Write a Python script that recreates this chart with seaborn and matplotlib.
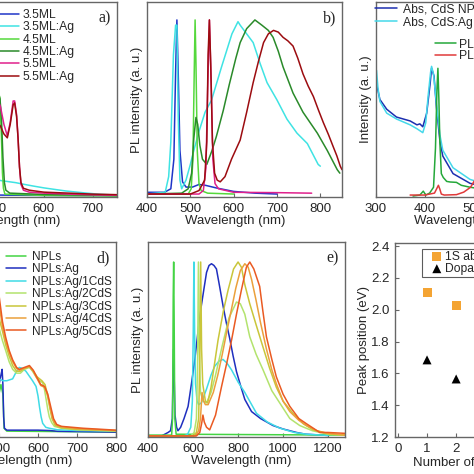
import matplotlib
matplotlib.use("Agg")
import matplotlib.pyplot as plt
import seaborn as sns

# ---- panel a: absorption of core NPLs (only the visible right part) ----
a_35_wl = [505, 600, 750]
a_35 = [0.005, 0.003, 0.002]
a_35ag_wl = [505, 511, 525, 542, 560, 577, 600, 645, 680, 714, 750]
a_35ag = [0.085, 0.08, 0.075, 0.069, 0.06, 0.052, 0.042, 0.026, 0.017, 0.009, 0.005]
a_45_wl = [495, 500, 505, 510, 513, 515, 517, 520, 600, 750]
a_45 = [0.62, 0.6, 0.56, 0.5, 0.3, 0.12, 0.04, 0.01, 0.003, 0.0]
a_45ag_wl = [495, 505, 510, 513, 516, 519, 522, 530, 600, 750]
a_45ag = [0.6, 0.55, 0.5, 0.4, 0.2, 0.07, 0.03, 0.015, 0.008, 0.003]
a_55_wl = [500, 505, 511, 518, 525, 531, 537, 540, 544, 547, 550, 553, 558, 570, 600, 650, 700, 750]
a_55 = [0.52, 0.5, 0.46, 0.37, 0.31, 0.38, 0.49, 0.49, 0.42, 0.3, 0.15, 0.06, 0.03, 0.02, 0.015, 0.01, 0.006, 0.004]
a_55ag_wl = [500, 505, 511, 518, 525, 531, 537, 540, 544, 547, 550, 553, 558, 570, 600, 650, 700, 750]
a_55ag = [0.4, 0.38, 0.36, 0.32, 0.3, 0.37, 0.47, 0.48, 0.41, 0.3, 0.15, 0.07, 0.04, 0.03, 0.02, 0.015, 0.01, 0.007]

# ---- panel b: PL of core NPLs ----
b_35_wl = [400, 440, 455, 462, 466, 469, 472, 476, 482, 490, 505, 520, 535, 560, 600, 650, 700]
b_35 = [0.01, 0.01, 0.03, 0.2, 0.7, 1.0, 0.7, 0.25, 0.07, 0.04, 0.04, 0.055, 0.05, 0.035, 0.015, 0.005, 0.0]
b_35ag_wl = [400, 442, 450, 455, 461, 466, 469, 472, 476, 480, 490, 500, 507, 520, 534, 549, 572, 596, 610,
             615, 645, 661, 677, 700, 723, 746, 770, 795, 800]
b_35ag = [0.0, 0.01, 0.1, 0.3, 0.8, 0.97, 0.97, 0.45, 0.08, 0.03, 0.08, 0.17, 0.24, 0.36, 0.47, 0.54, 0.73,
          0.92, 0.99, 0.97, 0.87, 0.75, 0.64, 0.54, 0.43, 0.35, 0.29, 0.17, 0.16]
b_45_wl = [400, 495, 502, 506, 509, 511, 513, 516, 520, 525, 540, 600]
b_45 = [0.0, 0.0, 0.03, 0.2, 0.7, 1.0, 0.75, 0.25, 0.06, 0.02, 0.005, 0.0]
b_45ag_wl = [400, 480, 495, 503, 508, 513, 517, 522, 528, 538, 550, 560, 576, 590, 605, 615, 630, 649, 665,
             680, 691, 703, 714, 737, 760, 793, 816, 839, 845]
b_45ag = [0.0, 0.005, 0.03, 0.12, 0.32, 0.44, 0.4, 0.28, 0.2, 0.17, 0.25, 0.33, 0.48, 0.63, 0.78, 0.87, 0.95,
          1.0, 0.97, 0.94, 0.9, 0.82, 0.73, 0.58, 0.47, 0.35, 0.25, 0.14, 0.12]
b_55_wl = [400, 520, 530, 536, 540, 544, 548, 552, 557, 565, 600, 700, 780]
b_55 = [0.0, 0.0, 0.02, 0.15, 0.6, 1.0, 0.65, 0.2, 0.06, 0.03, 0.01, 0.008, 0.005]
b_55ag_wl = [400, 500, 520, 533, 538, 541, 544, 547, 551, 556, 562, 569, 580, 595, 615, 630, 645, 657, 669,
             680, 692, 703, 714, 725, 737, 748, 760, 772, 784, 796, 807, 819, 830, 838, 846, 850]
b_55ag = [0.0, 0.0, 0.02, 0.08, 0.3, 0.8, 1.0, 0.75, 0.3, 0.12, 0.08, 0.07, 0.1, 0.2, 0.31, 0.47, 0.64, 0.76,
          0.87, 0.92, 0.94, 0.93, 0.9, 0.88, 0.85, 0.78, 0.69, 0.62, 0.56, 0.48, 0.41, 0.34, 0.27, 0.22, 0.16, 0.14]

# ---- panel c: CdS NPLs absorption and PL ----
c_abs_wl = [301, 308, 322, 342, 370, 384, 390, 396, 404, 411, 414, 419, 424, 431, 437, 458, 493, 520]
c_abs = [0.58, 0.5, 0.45, 0.41, 0.39, 0.37, 0.375, 0.36, 0.43, 0.58, 0.66, 0.62, 0.46, 0.29, 0.21, 0.12, 0.07, 0.055]
c_absag_wl = [301, 304, 308, 322, 342, 370, 384, 390, 396, 402, 407, 412, 414, 418, 424, 431, 437, 458, 493, 520]
c_absag = [0.65, 0.56, 0.49, 0.43, 0.4, 0.37, 0.35, 0.34, 0.33, 0.38, 0.52, 0.64, 0.67, 0.63, 0.48, 0.32, 0.24,
           0.15, 0.09, 0.07]
c_pl_wl = [376, 390, 397, 402, 410, 418, 422, 425, 427, 429, 431, 434, 438, 445, 452, 465, 475, 493, 520]
c_pl = [0.005, 0.01, 0.03, 0.01, 0.02, 0.05, 0.25, 0.55, 0.66, 0.5, 0.28, 0.12, 0.1, 0.08, 0.077, 0.075, 0.06,
        0.05, 0.04]
c_plag_wl = [370, 400, 420, 424, 428, 431, 434, 440, 465, 480, 494, 501, 510, 520]
c_plag = [0.01, 0.01, 0.02, 0.04, 0.06, 0.04, 0.015, 0.01, 0.012, 0.025, 0.05, 0.08, 0.11, 0.15]

# ---- panel d: absorption of core/shell NPLs ----
d_npl_wl = [495, 500, 505, 510, 513, 520, 800]
d_npl = [0.18, 0.2, 0.25, 0.2, 0.02, 0.005, 0.0]
d_ag_wl = [495, 500, 505, 508, 510, 512, 514, 520, 600, 630, 650, 800]
d_ag = [0.2, 0.25, 0.3, 0.33, 0.25, 0.08, 0.02, 0.01, 0.01, 0.008, 0.004, 0.0]
d_1cds_wl = [495, 500, 510, 520, 535, 545, 552, 560, 569, 586, 595, 600, 604, 608, 612, 620, 629, 650, 700, 800]
d_1cds = [0.29, 0.28, 0.27, 0.27, 0.28, 0.32, 0.34, 0.335, 0.32, 0.27, 0.24, 0.19, 0.13, 0.08, 0.046, 0.025,
          0.02, 0.012, 0.008, 0.005]
d_2cds_wl = [495, 500, 509, 517, 526, 535, 545, 555, 565, 578, 586, 595, 604, 612, 617, 621, 625, 629, 635,
             642, 660, 700, 800]
d_2cds = [0.58, 0.55, 0.48, 0.43, 0.37, 0.33, 0.31, 0.31, 0.33, 0.34, 0.32, 0.29, 0.27, 0.26, 0.22, 0.17, 0.12,
          0.08, 0.05, 0.03, 0.02, 0.012, 0.005]
d_3cds_wl = [495, 500, 509, 517, 526, 535, 545, 555, 565, 578, 588, 598, 610, 618, 624, 630, 636, 644, 660,
             700, 800]
d_3cds = [0.63, 0.6, 0.53, 0.46, 0.4, 0.35, 0.32, 0.32, 0.335, 0.345, 0.32, 0.29, 0.27, 0.25, 0.2, 0.13, 0.07,
          0.035, 0.022, 0.014, 0.007]
d_4cds_wl = [495, 500, 509, 517, 526, 535, 545, 552, 565, 578, 588, 598, 607, 617, 625, 632, 638, 646, 655,
             700, 800]
d_4cds = [0.72, 0.68, 0.55, 0.48, 0.42, 0.37, 0.335, 0.325, 0.335, 0.345, 0.32, 0.28, 0.245, 0.235, 0.19, 0.12,
          0.07, 0.04, 0.03, 0.018, 0.008]
d_5cds_wl = [495, 500, 509, 517, 526, 535, 545, 552, 565, 578, 588, 598, 607, 617, 625, 633, 640, 648, 660,
             716, 800]
d_5cds = [0.77, 0.72, 0.58, 0.5, 0.43, 0.38, 0.34, 0.33, 0.34, 0.35, 0.325, 0.285, 0.25, 0.24, 0.2, 0.13, 0.07,
          0.04, 0.03, 0.02, 0.01]

# ---- panel e: PL of core/shell NPLs ----
e_npl_wl = [400, 505, 509, 512, 514, 516, 519, 525, 1275]
e_npl = [0.005, 0.005, 0.1, 0.8, 1.0, 0.7, 0.1, 0.01, 0.005]
e_ag_wl = [400, 460, 489, 500, 508, 512, 514, 516, 520, 527, 533, 545, 560, 578, 593, 608, 622, 637, 649, 660,
           671, 682, 693, 704, 718, 733, 748, 763, 778, 793, 811, 830, 860, 900, 955, 1000, 1060, 1100, 1200]
e_ag = [0.0, 0.0, 0.02, 0.03, 0.1, 0.4, 0.5, 0.35, 0.12, 0.05, 0.03, 0.05, 0.1, 0.17, 0.3, 0.44, 0.6, 0.75,
        0.85, 0.94, 0.98, 0.99, 0.98, 0.96, 0.86, 0.75, 0.65, 0.56, 0.46, 0.37, 0.29, 0.21, 0.14, 0.1, 0.06,
        0.04, 0.02, 0.01, 0.003]
e_1cds_wl = [400, 560, 576, 590, 597, 601, 604, 607, 611, 618, 625, 637, 660, 680, 696, 715, 733, 750, 771,
             800, 830, 856, 882, 930, 985, 1050, 1104, 1200]
e_1cds = [0.0, 0.0, 0.01, 0.05, 0.2, 0.6, 1.0, 0.6, 0.3, 0.2, 0.18, 0.19, 0.27, 0.35, 0.4, 0.43, 0.44, 0.42,
          0.38, 0.31, 0.25, 0.19, 0.13, 0.08, 0.045, 0.02, 0.01, 0.003]
e_2cds_wl = [400, 590, 605, 615, 620, 624, 628, 633, 645, 660, 680, 700, 730, 760, 793, 810, 830, 852, 880,
             911, 950, 985, 1030, 1074, 1130, 1200, 1275]
e_2cds = [0.0, 0.0, 0.02, 0.1, 0.4, 1.0, 0.5, 0.25, 0.2, 0.19, 0.25, 0.35, 0.52, 0.68, 0.77, 0.76, 0.7, 0.57,
          0.47, 0.38, 0.26, 0.19, 0.1, 0.06, 0.03, 0.01, 0.005]
e_3cds_wl = [400, 600, 615, 625, 630, 634, 638, 643, 655, 665, 680, 711, 735, 756, 780, 800, 815, 830, 852,
             880, 911, 940, 970, 1000, 1044, 1090, 1133, 1200, 1275]
e_3cds = [0.0, 0.0, 0.02, 0.1, 0.45, 1.0, 0.5, 0.3, 0.2, 0.19, 0.28, 0.55, 0.72, 0.84, 0.96, 1.0, 0.97, 0.87,
          0.76, 0.64, 0.51, 0.39, 0.28, 0.2, 0.13, 0.07, 0.035, 0.012, 0.005]
e_4cds_wl = [400, 610, 625, 633, 640, 647, 655, 667, 690, 710, 730, 750, 771, 790, 810, 830, 845, 860, 880,
             900, 926, 950, 970, 1000, 1030, 1070, 1104, 1150, 1200, 1275]
e_4cds = [0.0, 0.0, 0.03, 0.1, 0.25, 0.2, 0.18, 0.18, 0.25, 0.35, 0.47, 0.6, 0.73, 0.85, 0.95, 0.99, 0.97, 0.9,
          0.78, 0.65, 0.5, 0.38, 0.3, 0.2, 0.14, 0.09, 0.06, 0.03, 0.015, 0.005]
e_5cds_wl = [400, 615, 630, 638, 644, 650, 660, 674, 700, 726, 750, 771, 793, 815, 837, 852, 870, 896, 910,
             926, 950, 970, 1000, 1030, 1070, 1104, 1163, 1200, 1275]
e_5cds = [0.0, 0.0, 0.02, 0.07, 0.12, 0.08, 0.05, 0.035, 0.12, 0.28, 0.42, 0.55, 0.7, 0.84, 0.97, 1.0, 0.96,
          0.86, 0.72, 0.57, 0.44, 0.34, 0.24, 0.17, 0.1, 0.07, 0.02, 0.02, 0.015]

# ---- panel f: peak positions ----
f_layers = [1, 2]
f_abs = [2.11, 2.025]
f_dop = [1.685, 1.565]

sns.set_style("ticks")
plt.rcParams["font.family"] = ["Liberation Sans", "DejaVu Sans"]

fig = plt.figure(figsize=(4.74, 4.74), dpi=100)


def place(l, t, r, b):
    return fig.add_axes([l / 474, 1 - b / 474, (r - l) / 474, (b - t) / 474])


def style(ax, yticks=False):
    for s in ax.spines.values():
        s.set_color("#666666")
        s.set_linewidth(1.0)
    ax.tick_params(direction="in", length=3, color="#666666", labelsize=9.5, pad=4)
    if not yticks:
        ax.set_yticks([])


def letter(ax, txt):
    ax.text(0.97, 0.918, txt, transform=ax.transAxes, ha="right", va="center",
            fontsize=11.5, family="Liberation Serif")


def wl_label(ax, xc):
    # the original x labels sit a little off the axis centre
    ax.set_xlabel("Wavelength (nm)", fontsize=9.5)
    ax.xaxis.set_label_coords(xc, -0.09)


def draw(ax, wl, vals, color, label=None):
    sns.lineplot(x=wl, y=vals, ax=ax, color=color, lw=1.1, label=label, legend=False)


# colours
c35, c35ag, c45, c45ag, c55, c55ag = "#1f35c8", "#3fe3e3", "#55d83c", "#2a8a2a", "#e0208c", "#9c0c10"

# panel a
ax = place(-78, 2, 117, 197)
for wl, v, c, lab in [(a_35_wl, a_35, c35, "3.5ML"), (a_35ag_wl, a_35ag, c35ag, "3.5ML:Ag"),
                      (a_45_wl, a_45, c45, "4.5ML"), (a_45ag_wl, a_45ag, c45ag, "4.5ML:Ag"),
                      (a_55_wl, a_55, c55, "5.5ML"), (a_55ag_wl, a_55ag, c55ag, "5.5ML:Ag")]:
    draw(ax, wl, v, c, lab)
ax.set_xlim(350, 750)
ax.set_ylim(-0.005, 1.0)
ax.set_xticks([400, 500, 600, 700])
style(ax)
wl_label(ax, 0.454)
ax.legend(loc="upper left", bbox_to_anchor=(0.39, 0.964), frameon=False, borderpad=0, borderaxespad=0,
          fontsize=8.7, handlelength=1.7, handletextpad=0.3, labelspacing=0.03)
letter(ax, "a)")

# panel b
ax = place(147, 2, 342, 197)
for wl, v, c in [(b_35_wl, b_35, c35), (b_35ag_wl, b_35ag, c35ag), (b_45_wl, b_45, c45),
                 (b_45ag_wl, b_45ag, c45ag), (b_55_wl, b_55, c55), (b_55ag_wl, b_55ag, c55ag)]:
    draw(ax, wl, v, c)
ax.set_xlim(400, 850)
ax.set_ylim(-0.017, 1.103)
ax.set_xticks([400, 500, 600, 700, 800])
style(ax)
wl_label(ax, 0.454)
ax.set_ylabel("PL intensity (a. u.)", fontsize=9.5, labelpad=3)
letter(ax, "b)")

# panel c
ax = place(376, 2, 571, 197)
draw(ax, c_abs_wl, c_abs, "#1c2fb0", "Abs, CdS NPLs")
draw(ax, c_absag_wl, c_absag, "#45d8ea", "Abs, CdS:Ag NPLs")
draw(ax, c_pl_wl, c_pl, "#25a83a", "PL, CdS NPLs")
draw(ax, c_plag_wl, c_plag, "#e03a3a", "PL, CdS:Ag NPLs")
ax.set_xlim(300, 700)
ax.set_ylim(0, 1.0)
ax.set_xticks([300, 400, 500, 600])
style(ax)
wl_label(ax, 0.451)
ax.set_ylabel("Intensity (a. u.)", fontsize=9.5, labelpad=3)
h, l = ax.get_legend_handles_labels()
leg1 = ax.legend(h[:2], l[:2], loc="upper left", bbox_to_anchor=(-0.005, 0.994), frameon=False, borderpad=0,
                 borderaxespad=0, fontsize=8.7, handlelength=1.85, handletextpad=0.5, labelspacing=0.12)
ax.add_artist(leg1)
ax.legend(h[2:], l[2:], loc="upper left", bbox_to_anchor=(0.303, 0.815), frameon=False, borderpad=0,
          borderaxespad=0, fontsize=8.7, handlelength=1.7, handletextpad=0.25, labelspacing=0.03)

# panel d
shell_cols = ["#44d444", "#1f2fbf", "#40dbe6", "#b3e36e", "#c9c63a", "#eba03c", "#ea5a22"]
shell_labs = ["NPLs", "NPLs:Ag", "NPLs:Ag/1CdS", "NPLs:Ag/2CdS", "NPLs:Ag/3CdS", "NPLs:Ag/4CdS", "NPLs:Ag/5CdS"]
ax = place(-79, 242, 116, 437)
for (wl, v), c, lab in zip([(d_npl_wl, d_npl), (d_ag_wl, d_ag), (d_1cds_wl, d_1cds), (d_2cds_wl, d_2cds),
                            (d_3cds_wl, d_3cds), (d_4cds_wl, d_4cds), (d_5cds_wl, d_5cds)],
                           shell_cols, shell_labs):
    draw(ax, wl, v, c, lab)
ax.set_xlim(300, 800)
ax.set_ylim(-0.026, 1.0)
ax.set_xticks([300, 400, 500, 600, 700, 800])
style(ax)
wl_label(ax, 0.52)
ax.legend(loc="upper left", bbox_to_anchor=(0.435, 0.955), frameon=False, borderpad=0, borderaxespad=0,
          fontsize=8.6, handlelength=1.7, handletextpad=0.45, labelspacing=0.04)
letter(ax, "d)")

# panel e
ax = place(148, 242, 345, 437)
for (wl, v), c in zip([(e_ag_wl, e_ag), (e_npl_wl, e_npl), (e_1cds_wl, e_1cds), (e_2cds_wl, e_2cds),
                       (e_3cds_wl, e_3cds), (e_4cds_wl, e_4cds), (e_5cds_wl, e_5cds)],
                      [shell_cols[1], shell_cols[0]] + shell_cols[2:]):
    draw(ax, wl, v, c)
ax.set_xlim(400, 1275)
ax.set_ylim(-0.006, 1.115)
ax.set_xticks([400, 600, 800, 1000, 1200])
style(ax)
wl_label(ax, 0.471)
ax.set_ylabel("PL intensity (a. u.)", fontsize=9.5, labelpad=3)
letter(ax, "e)")

# panel f
ax = place(395, 243, 561, 437)
sns.scatterplot(x=f_layers, y=f_abs, ax=ax, marker="s", s=42, color="#f4a433", edgecolor="none",
                label="1S absorption", legend=False)
sns.scatterplot(x=f_layers, y=f_dop, ax=ax, marker="^", s=42, color="black", edgecolor="none",
                label="Dopant emission", legend=False)
ax.set_xlim(-0.1, 5.6)
ax.set_ylim(1.2, 2.42)
ax.set_xticks([0, 1, 2, 3, 4, 5])
ax.set_yticks([1.2, 1.4, 1.6, 1.8, 2.0, 2.2, 2.4])
ax.set_yticklabels(["1.2", "1.4", "1.6", "1.8", "2.0", "2.2", "2.4"])
style(ax, yticks=True)
ax.set_xlabel("Number of CdS layers", fontsize=9.5, labelpad=2)
ax.set_ylabel("Peak position (eV)", fontsize=9.5, labelpad=0.5)
leg = ax.legend(loc="upper left", bbox_to_anchor=((421.7 - 395) / 166, 1 - (248.7 - 243) / 194), frameon=True,
                fancybox=False, borderpad=0.15, borderaxespad=0, fontsize=8.7, handlelength=2.2,
                handletextpad=-0.45, labelspacing=0.03)
leg.get_frame().set_edgecolor("#333333")
leg.get_frame().set_linewidth(0.8)

fig.savefig("out.png", dpi=100)
